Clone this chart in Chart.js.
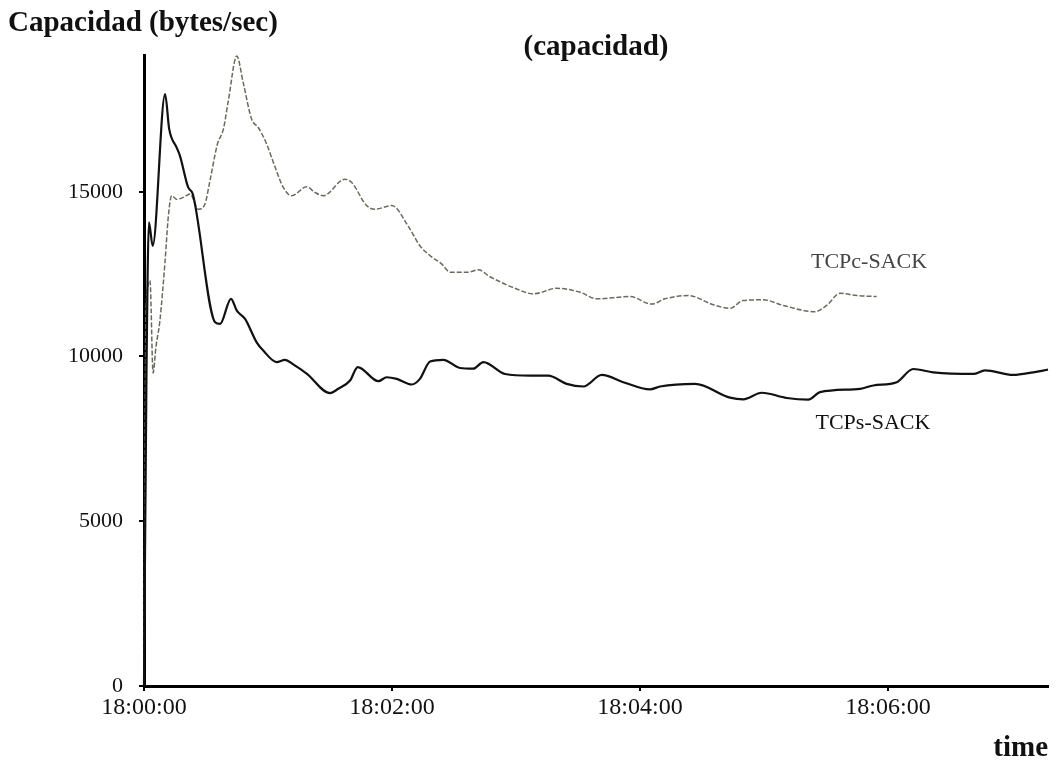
<!DOCTYPE html>
<html lang="es">
<head>
<meta charset="utf-8">
<title>Capacidad</title>
<script src="https://cdn.jsdelivr.net/npm/chart.js@4.4.1/dist/chart.umd.min.js"></script>
<style>
  body { margin: 0; background: #fff; }
  #chart-container { width: 1060px; height: 767px; position: relative; }
</style>
</head>
<body>
<div id="chart-container"><canvas id="chart-canvas"></canvas></div>
<script>
/* -------------  DATA  ------------- */

// seconds after 18:00:00
const sackSTimes = [0, 1.2, 2.4, 4.2, 10.2, 12.2, 15.8, 17.4, 21.4, 23.6, 34.4, 36.8, 42.1, 44.9, 48.9, 54.5, 57.7,
  64.2, 68.2, 72.2, 78.7, 90.0, 94.0, 99.7, 103.4, 113.4, 117.4, 122.3, 129.5, 133.5, 138.4, 144.8, 152.9, 159.3,
  164.2, 174.7, 186.8, 195.6, 204.5, 212.6, 221.5, 231.9, 244.8, 249.7, 266.6, 283.6, 290.0, 298.9, 311.0, 321.4,
  327.1, 346.5, 352.9, 364.2, 372.2, 381.9, 401.3, 406.9, 420.6, 430.3, 437.4];
const sackSValues = [0, 9500, 14070, 13360, 17960, 16900, 16340, 16090, 15130, 14930, 11040, 10990, 11750, 11390, 11140,
  10430, 10180, 9830, 9900, 9760, 9480, 8890, 9020, 9270, 9680, 9250, 9370, 9320, 9150, 9320, 9850, 9900, 9650, 9630,
  9830, 9470, 9420, 9420, 9170, 9090, 9440, 9220, 9000, 9090, 9170, 8750, 8700, 8900, 8740, 8690, 8920, 9020, 9120,
  9220, 9620, 9520, 9470, 9580, 9440, 9520, 9600];

const sackCTimes = [0, 1.0, 2.9, 4.4, 5.8, 7.7, 10.2, 11.8, 13.4, 15.8, 19.0, 22.3, 26.3, 29.5, 31.9, 35.5, 38.4, 40.8,
  44.9, 48.0, 52.1, 55.3, 59.4, 62.6, 67.4, 71.5, 78.7, 82.7, 86.8, 97.2, 100.5, 107.7, 111.7, 119.9, 127.9, 133.5,
  138.4, 144.0, 148.1, 156.9, 161.8, 167.4, 180.3, 188.4, 199.7, 211.0, 219.1, 235.2, 245.7, 252.1, 263.4, 275.5,
  283.5, 290.0, 299.7, 309.3, 324.7, 330.3, 336.8, 344.8, 354.5];
const sackCValues = [0, 11500, 12300, 9500, 10300, 11090, 12900, 14270, 14880, 14770, 14830, 14930, 14470, 14630, 15330,
  16440, 16900, 17760, 19120, 18310, 17200, 16950, 16440, 15890, 15130, 14880, 15150, 14980, 14880, 15380, 15280,
  14580, 14470, 14580, 13950, 13360, 13060, 12810, 12560, 12560, 12630, 12420, 12050, 11900, 12070, 11950, 11750,
  11820, 11590, 11750, 11850, 11570, 11460, 11700, 11720, 11550, 11360, 11550, 11920, 11850, 11820];

const yTicks = [0, 5000, 10000, 15000];
const xTicks = [0, 120, 240, 360];
const yMax = 19150;
const xMax = 437.4;

const chartTitle = 'Capacidad (bytes/sec)';
const plotTitle = '(capacidad)';
const xAxisTitle = 'time';
const seriesLabels = ['TCPs-SACK', 'TCPc-SACK'];
// where the series names sit, in data units [seconds, bytes/sec]
const seriesLabelSpots = [[352.7, 7970], [350.8, 12850]];

/* -------------  CHART  ------------- */

const SERIF = '"Liberation Serif", "Times New Roman", serif';

/**
 * Zips time and value arrays into {x, y} points.
 */
function toPoints(times, values) {
  return times.map((t, i) => ({ x: t, y: values[i] }));
}

/**
 * Formats seconds after 18:00:00 as a clock label.
 */
function clockLabel(sec) {
  const total = 18 * 3600 + Math.round(sec);
  const h = Math.floor(total / 3600);
  const m = Math.floor((total % 3600) / 60);
  const s = total % 60;
  return h + ':' + String(m).padStart(2, '0') + ':' + String(s).padStart(2, '0');
}

/**
 * Draws the titles and the series names straight onto the canvas.
 */
const textPlugin = {
  id: 'extraText',
  afterDraw(chart) {
    const ctx = chart.ctx;
    const area = chart.chartArea;
    const xs = chart.scales.x;
    const ys = chart.scales.y;
    ctx.save();
    ctx.fillStyle = '#111';
    ctx.textBaseline = 'middle';
    ctx.font = 'bold 29px ' + SERIF;
    ctx.textAlign = 'left';
    ctx.fillText(chartTitle, 8, 24);
    ctx.textAlign = 'center';
    ctx.fillText(plotTitle, (area.left + area.right) / 2, 48);
    ctx.textAlign = 'right';
    ctx.fillText(xAxisTitle, area.right, 749);

    ctx.textAlign = 'center';
    ctx.font = '22px ' + SERIF;
    ctx.fillStyle = '#111';
    ctx.fillText(seriesLabels[0], xs.getPixelForValue(seriesLabelSpots[0][0]), ys.getPixelForValue(seriesLabelSpots[0][1]));
    ctx.fillStyle = '#444';
    ctx.fillText(seriesLabels[1], xs.getPixelForValue(seriesLabelSpots[1][0]), ys.getPixelForValue(seriesLabelSpots[1][1]));
    ctx.restore();
  },
};

function setChartConfig() {
  return {
    type: 'line',
    data: {
      datasets: [
        {
          label: seriesLabels[0],
          data: toPoints(sackSTimes, sackSValues),
          borderColor: '#111',
          borderWidth: 2.2,
          pointRadius: 0,
          cubicInterpolationMode: 'monotone',
          clip: false,
        },
        {
          label: seriesLabels[1],
          data: toPoints(sackCTimes, sackCValues),
          borderColor: '#6a6a5c',
          borderWidth: 1.5,
          borderDash: [5, 2],
          pointRadius: 0,
          cubicInterpolationMode: 'monotone',
          clip: false,
        },
      ],
    },
    options: {
      responsive: true,
      maintainAspectRatio: false,
      animation: false,
      layout: { padding: { left: 0, top: 55, right: 12, bottom: 0 } },
      plugins: { legend: { display: false }, tooltip: { enabled: false } },
      scales: {
        x: {
          type: 'linear',
          min: 0,
          max: xMax,
          afterFit: (scale) => { scale.height = 81; },
          afterBuildTicks: (scale) => { scale.ticks = xTicks.map((v) => ({ value: v })); },
          border: { display: true, color: '#000', width: 3 },
          grid: { drawOnChartArea: false, drawTicks: true, tickLength: 5, color: '#000', lineWidth: 2 },
          ticks: {
            color: '#111',
            padding: 2,
            maxRotation: 0,
            font: { family: SERIF, size: 24 },
            callback: (v) => clockLabel(v),
          },
        },
        y: {
          min: 0,
          max: yMax,
          afterFit: (scale) => { scale.width = 144; },
          afterBuildTicks: (scale) => { scale.ticks = yTicks.map((v) => ({ value: v })); },
          border: { display: true, color: '#000', width: 3 },
          grid: { drawOnChartArea: false, drawTicks: true, tickLength: 5, color: '#000', lineWidth: 2 },
          ticks: {
            color: '#111',
            padding: 16,
            font: { family: SERIF, size: 22 },
            callback: (v) => String(v),
          },
        },
      },
    },
    plugins: [textPlugin],
  };
}

let capacityChart = new Chart(document.getElementById('chart-canvas'), setChartConfig());
</script>
</body>
</html>
